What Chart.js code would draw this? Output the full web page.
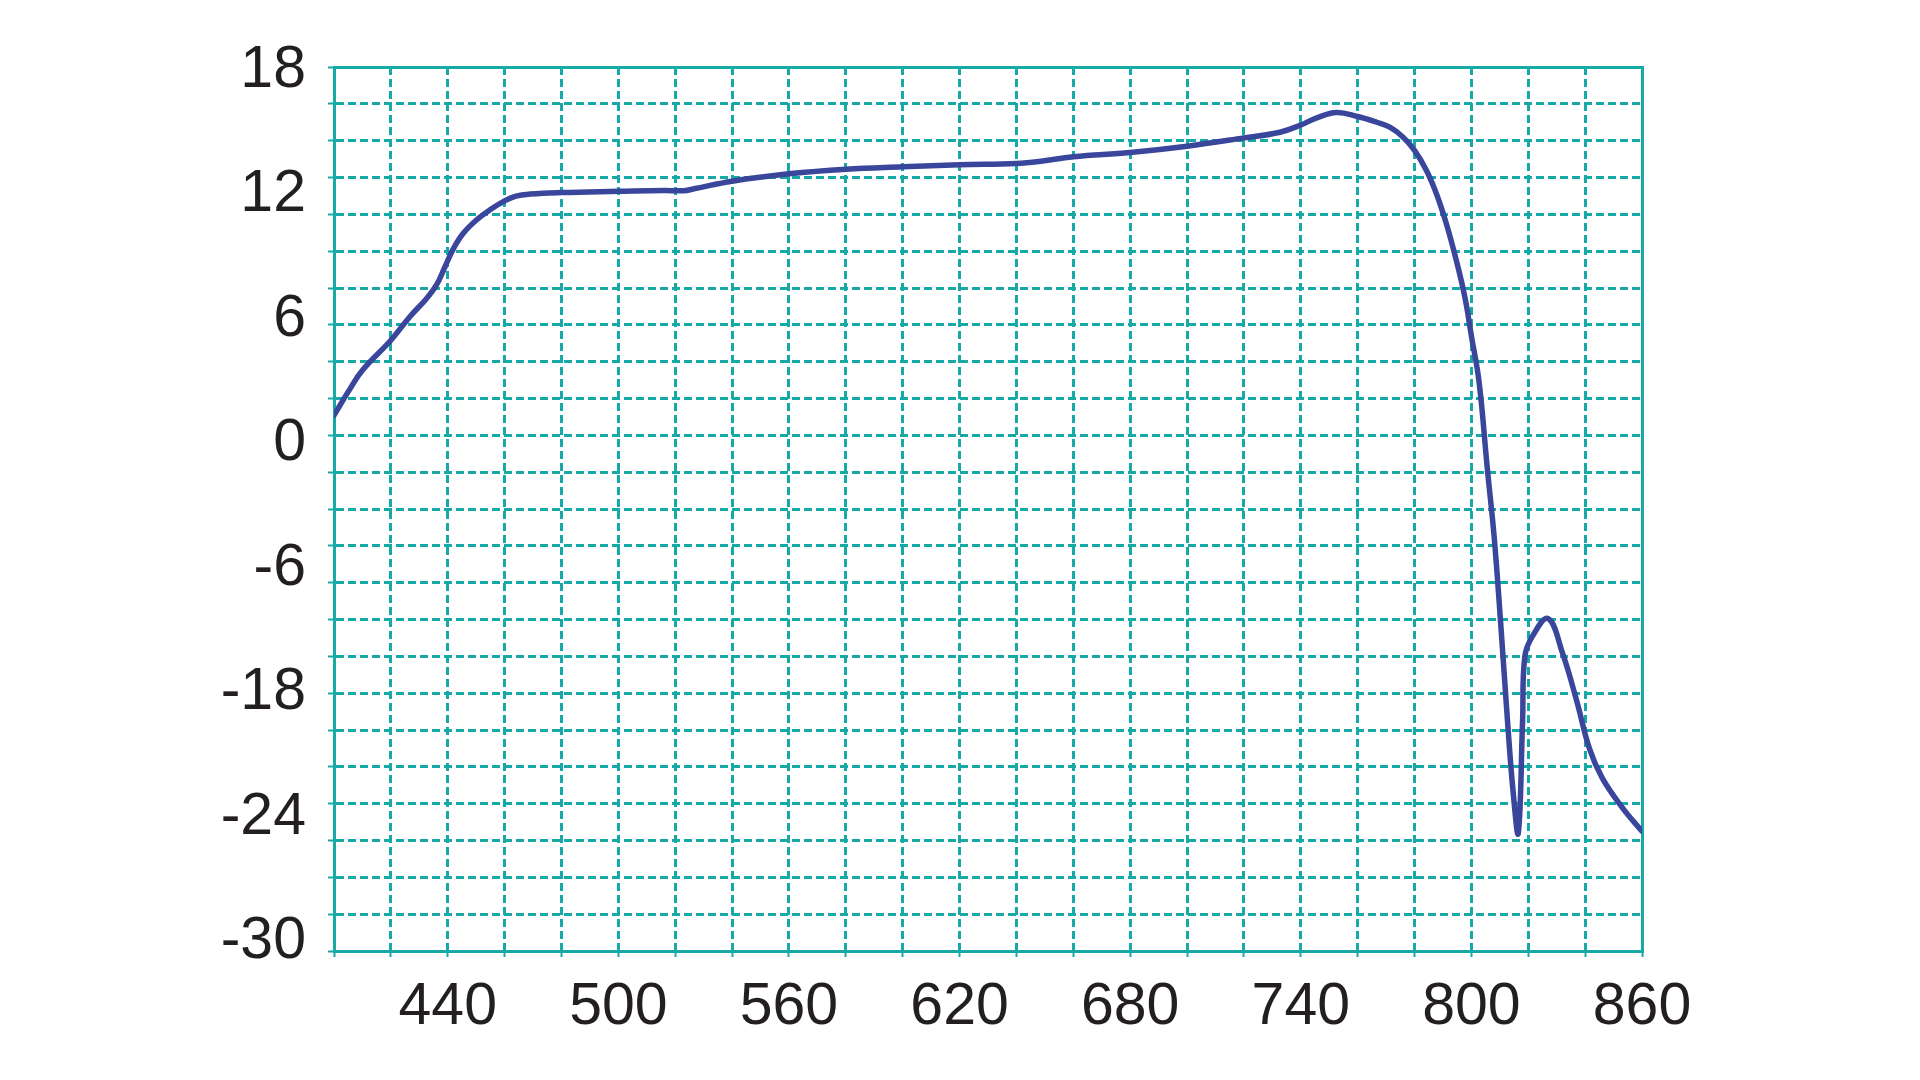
<!DOCTYPE html>
<html>
<head>
<meta charset="utf-8">
<script src="https://cdn.jsdelivr.net/npm/chart.js@4"></script>
<style>
  html, body { margin: 0; padding: 0; background: #ffffff; }
  #wrap { width: 1920px; height: 1080px; position: relative; }
</style>
</head>
<body>
<div id="wrap"><canvas id="c"></canvas></div>
<script>
// ---- data ----
const wavelength = [400, 405.3, 410, 420, 426.6, 432.5, 436, 439, 442, 445.4, 450, 455, 460, 464, 469, 480, 500, 516, 523, 527, 540, 560, 580, 600, 620, 640, 648, 660, 680, 700, 720, 732.7, 740, 745.6, 752.6, 760, 766.7, 771.3, 776, 780, 784.2, 787.7, 791.2, 794.7, 797.7, 800, 802.7, 805.6, 808, 810.3, 812.7, 814.7, 816.5, 818, 818.8, 821.5, 827, 832, 837, 841.5, 846, 853, 860];
const gain       = [-0.92, 0.44, 1.53, 3.16, 4.43, 5.42, 6.15, 7.14, 8.14, 8.96, 9.68, 10.26, 10.73, 10.99, 11.1, 11.18, 11.25, 11.3, 11.28, 11.4, 11.8, 12.2, 12.45, 12.58, 12.69, 12.76, 12.87, 13.13, 13.36, 13.7, 14.15, 14.46, 14.85, 15.24, 15.53, 15.31, 15.0, 14.73, 14.19, 13.47, 12.38, 11.12, 9.49, 7.5, 5.51, 3.4, 0.9, -3.8, -7.5, -12.2, -17.5, -21.4, -23.6, -17.5, -14.0, -12.9, -11.95, -13.8, -16.4, -19.0, -20.6, -22.2, -23.5];
const xTickLabels = [440, 500, 560, 620, 680, 740, 800, 860];
const yTickLabels = ['18', '12', '6', '0', '-6', '-18', '-24', '-30'];

// ---- styling ----
const TEAL = '#17a9a6';
const LINE = '#3a469b';
const TEXT = '#231f20';
const FONT = { family: '"Liberation Sans", Arial, Helvetica, sans-serif', size: 59 };

const yLabelTop = 17.8, yLabelBottom = -29.5;

const points = wavelength.map((w, i) => ({ x: w, y: gain[i] }));

new Chart(document.getElementById('c'), {
  type: 'line',
  data: {
    datasets: [{
      data: points,
      borderColor: LINE,
      borderWidth: 5.5,
      pointRadius: 0,
      fill: false,
      tension: 0.4,
      borderJoinStyle: 'round',
      borderCapStyle: 'round',
      xAxisID: 'x',
      yAxisID: 'y'
    }]
  },
  options: {
    responsive: true,
    maintainAspectRatio: false,
    devicePixelRatio: 1,
    animation: false,
    layout: { padding: { top: 67, right: 278, left: 0, bottom: 0 } },
    plugins: { legend: { display: false }, tooltip: { enabled: false } },
    scales: {
      x: {
        type: 'linear',
        position: 'bottom',
        min: 400, max: 860,
        afterFit: s => { s.height = 129; },
        ticks: {
          stepSize: 20,
          autoSkip: false,
          maxRotation: 0,
          padding: 15,
          color: TEXT,
          font: FONT,
          callback: v => xTickLabels.includes(v) ? String(v) : ''
        },
        grid: { color: TEAL, lineWidth: 3, tickLength: 6, tickColor: TEAL, tickWidth: 2 },
        border: { display: true, color: TEAL, width: 3, dash: [8, 4] }
      },
      y: {
        type: 'linear',
        position: 'left',
        weight: 0,
        min: -30, max: 18,
        afterFit: s => { s.width = 0; },
        ticks: { stepSize: 2, display: false },
        grid: { color: TEAL, lineWidth: 3, tickLength: 6, tickColor: TEAL, tickWidth: 2 },
        border: { display: true, color: TEAL, width: 3, dash: [8, 4] }
      },
      yl: {
        type: 'linear',
        position: 'left',
        weight: 1,
        min: -30, max: 18,
        afterFit: s => { s.width = 334; },
        afterBuildTicks: s => {
          const n = yTickLabels.length;
          s.ticks = yTickLabels.map((_, i) => ({ value: yLabelTop - i * (yLabelTop - yLabelBottom) / (n - 1) }));
        },
        ticks: {
          autoSkip: false,
          padding: 28,
          color: TEXT,
          font: FONT,
          callback: (v, i) => yTickLabels[i]
        },
        grid: { display: false, drawTicks: false },
        border: { display: false }
      },
      xTop: {
        type: 'linear',
        position: 'top',
        min: 400, max: 860,
        afterFit: s => { s.height = 0; },
        ticks: { display: false },
        grid: { display: false, drawTicks: false },
        border: { display: true, color: TEAL, width: 3 }
      },
      yRight: {
        type: 'linear',
        position: 'right',
        min: -30, max: 18,
        afterFit: s => { s.width = 0; },
        ticks: { display: false },
        grid: { display: false, drawTicks: false },
        border: { display: true, color: TEAL, width: 3 }
      }
    }
  }
});
</script>
</body>
</html>
